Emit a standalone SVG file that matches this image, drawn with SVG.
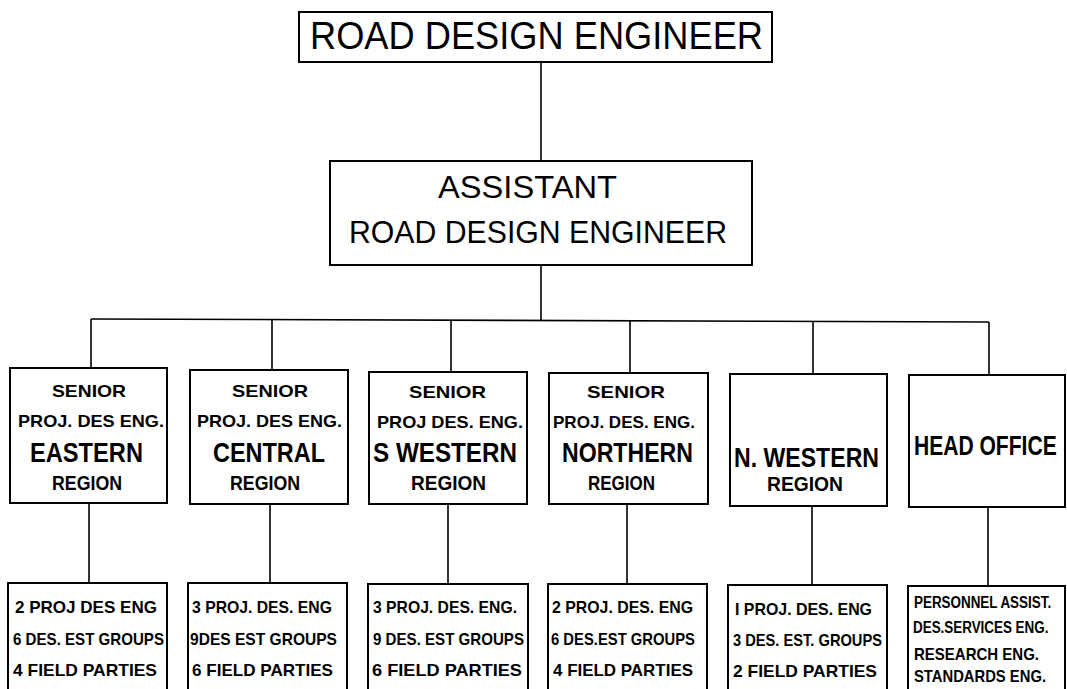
<svg xmlns="http://www.w3.org/2000/svg" width="1067" height="689" viewBox="0 0 1067 689">
<style>
.box{fill:#fff;stroke:#000;stroke-width:2}
.ln{stroke:#000;stroke-width:1.6;fill:none}
.t{font-family:"Liberation Sans",Arial,sans-serif;fill:#000}
.big{font-size:38px}
.mid{font-size:32px}
.s{font-size:17px;font-weight:bold}
.r{font-size:27px;font-weight:bold}
.rg{font-size:20px;font-weight:bold}
.b{font-size:17px;font-weight:bold}
</style>
<rect width="1067" height="689" fill="#fff"/>
<g id="connectors" class="ln">
<line x1="541" y1="62" x2="541" y2="161"/>
<line x1="541" y1="265" x2="541" y2="320"/>
<line x1="91" y1="319" x2="989" y2="322"/>
<line x1="91" y1="319" x2="91" y2="368"/>
<line x1="272" y1="320" x2="272" y2="370"/>
<line x1="451" y1="320" x2="451" y2="372"/>
<line x1="630" y1="321" x2="630" y2="373"/>
<line x1="813" y1="321" x2="813" y2="374"/>
<line x1="989" y1="322" x2="989" y2="375"/>
<line x1="89" y1="503" x2="89" y2="583"/>
<line x1="270" y1="504" x2="270" y2="583"/>
<line x1="448" y1="504" x2="448" y2="584"/>
<line x1="627" y1="504" x2="627" y2="584"/>
<line x1="812" y1="506" x2="812" y2="585"/>
<line x1="988" y1="507" x2="988" y2="586"/>
</g>
<g id="road-design-engineer">
<rect class="box" x="299" y="12" width="473" height="50"/>
<text class="t big" x="310" y="49" textLength="453" lengthAdjust="spacingAndGlyphs">ROAD DESIGN ENGINEER</text>
</g>
<g id="assistant">
<rect class="box" x="330" y="161" width="422" height="104"/>
<text class="t mid" x="438" y="198" textLength="179" lengthAdjust="spacingAndGlyphs">ASSISTANT</text>
<text class="t mid" x="349" y="243" textLength="378" lengthAdjust="spacingAndGlyphs">ROAD DESIGN ENGINEER</text>
</g>
<g id="eastern">
<rect class="box" x="10" y="368" width="157" height="135"/>
<text class="t s" x="52" y="397" textLength="74" lengthAdjust="spacingAndGlyphs">SENIOR</text>
<text class="t s" x="18" y="427" textLength="146" lengthAdjust="spacingAndGlyphs">PROJ. DES ENG.</text>
<text class="t r" x="30" y="462" textLength="113" lengthAdjust="spacingAndGlyphs">EASTERN</text>
<text class="t rg" x="52" y="490" textLength="70" lengthAdjust="spacingAndGlyphs">REGION</text>
</g>
<g id="central">
<rect class="box" x="190" y="370" width="158" height="134"/>
<text class="t s" x="232" y="397" textLength="76" lengthAdjust="spacingAndGlyphs">SENIOR</text>
<text class="t s" x="197" y="427" textLength="145" lengthAdjust="spacingAndGlyphs">PROJ. DES ENG.</text>
<text class="t r" x="213" y="462" textLength="112" lengthAdjust="spacingAndGlyphs">CENTRAL</text>
<text class="t rg" x="230" y="490" textLength="70" lengthAdjust="spacingAndGlyphs">REGION</text>
</g>
<g id="s-western">
<rect class="box" x="369" y="372" width="158" height="132"/>
<text class="t s" x="409" y="398" textLength="77" lengthAdjust="spacingAndGlyphs">SENIOR</text>
<text class="t s" x="377" y="428" textLength="146" lengthAdjust="spacingAndGlyphs">PROJ DES. ENG.</text>
<text class="t r" x="373" y="462" textLength="144" lengthAdjust="spacingAndGlyphs">S WESTERN</text>
<text class="t rg" x="411" y="490" textLength="75" lengthAdjust="spacingAndGlyphs">REGION</text>
</g>
<g id="northern">
<rect class="box" x="549" y="373" width="159" height="131"/>
<text class="t s" x="587" y="398" textLength="78" lengthAdjust="spacingAndGlyphs">SENIOR</text>
<text class="t s" x="553" y="428" textLength="142" lengthAdjust="spacingAndGlyphs">PROJ. DES. ENG.</text>
<text class="t r" x="562" y="462" textLength="131" lengthAdjust="spacingAndGlyphs">NORTHERN</text>
<text class="t rg" x="588" y="490" textLength="67" lengthAdjust="spacingAndGlyphs">REGION</text>
</g>
<g id="n-western">
<rect class="box" x="730" y="374" width="157" height="132"/>
<text class="t r" x="734" y="467" textLength="145" lengthAdjust="spacingAndGlyphs">N. WESTERN</text>
<text class="t rg" x="767" y="491" textLength="76" lengthAdjust="spacingAndGlyphs">REGION</text>
</g>
<g id="head-office">
<rect class="box" x="909" y="375" width="156" height="132"/>
<text class="t r" transform="translate(914,455) scale(0.78,1)">HEAD OFFICE</text>
</g>
<g id="eastern-staff">
<rect class="box" x="8" y="583" width="159" height="110"/>
<text class="t b" x="15" y="613" textLength="142" lengthAdjust="spacingAndGlyphs">2 PROJ DES ENG</text>
<text class="t b" x="13" y="645" textLength="151" lengthAdjust="spacingAndGlyphs">6 DES. EST GROUPS</text>
<text class="t b" x="13" y="676" textLength="144" lengthAdjust="spacingAndGlyphs">4 FIELD PARTIES</text>
</g>
<g id="central-staff">
<rect class="box" x="188" y="583" width="159" height="110"/>
<text class="t b" x="192" y="613" textLength="140" lengthAdjust="spacingAndGlyphs">3 PROJ. DES. ENG</text>
<text class="t b" x="190" y="645" textLength="147" lengthAdjust="spacingAndGlyphs">9DES EST GROUPS</text>
<text class="t b" x="192" y="676" textLength="141" lengthAdjust="spacingAndGlyphs">6 FIELD PARTIES</text>
</g>
<g id="s-western-staff">
<rect class="box" x="368" y="584" width="160" height="110"/>
<text class="t b" x="373" y="613" textLength="144" lengthAdjust="spacingAndGlyphs">3 PROJ. DES. ENG.</text>
<text class="t b" x="373" y="645" textLength="151" lengthAdjust="spacingAndGlyphs">9 DES. EST GROUPS</text>
<text class="t b" x="372" y="676" textLength="150" lengthAdjust="spacingAndGlyphs">6 FIELD PARTIES</text>
</g>
<g id="northern-staff">
<rect class="box" x="548" y="584" width="159" height="110"/>
<text class="t b" x="552" y="613" textLength="141" lengthAdjust="spacingAndGlyphs">2 PROJ. DES. ENG</text>
<text class="t b" x="551" y="645" textLength="144" lengthAdjust="spacingAndGlyphs">6 DES.EST GROUPS</text>
<text class="t b" x="553" y="676" textLength="140" lengthAdjust="spacingAndGlyphs">4 FIELD PARTIES</text>
</g>
<g id="n-western-staff">
<rect class="box" x="728" y="585" width="159" height="110"/>
<text class="t b" x="735" y="615" textLength="137" lengthAdjust="spacingAndGlyphs">I PROJ. DES. ENG</text>
<text class="t b" x="733" y="646" textLength="149" lengthAdjust="spacingAndGlyphs">3 DES. EST. GROUPS</text>
<text class="t b" x="733" y="677" textLength="144" lengthAdjust="spacingAndGlyphs">2 FIELD PARTIES</text>
</g>
<g id="head-office-staff">
<rect class="box" x="908" y="586" width="157" height="110"/>
<text class="t b" transform="translate(914,608) scale(0.79,1)">PERSONNEL ASSIST.</text>
<text class="t b" transform="translate(913,633) scale(0.79,1)">DES.SERVICES ENG.</text>
<text class="t b" x="914" y="660" textLength="125" lengthAdjust="spacingAndGlyphs">RESEARCH ENG.</text>
<text class="t b" x="914" y="682" textLength="132" lengthAdjust="spacingAndGlyphs">STANDARDS ENG.</text>
</g>
</svg>
